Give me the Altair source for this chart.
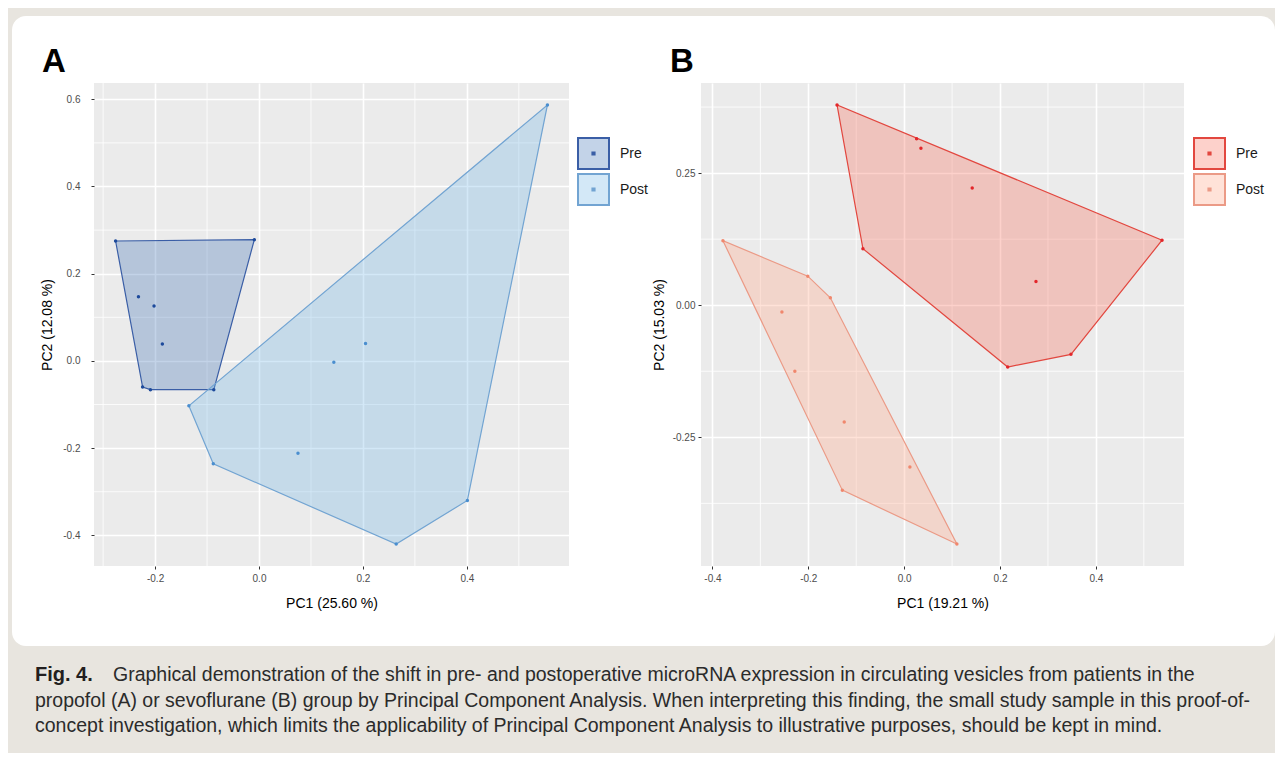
import altair as alt
import pandas as pd

# ---------------- data ----------------
A_pre_x = [-0.276, -0.009, -0.232, -0.202, -0.186, -0.224, -0.209, -0.087]
A_pre_y = [0.275, 0.278, 0.147, 0.126, 0.039, -0.060, -0.066, -0.066]
A_post_x = [-0.135, -0.088, 0.075, 0.144, 0.205, 0.264, 0.401, 0.555]
A_post_y = [-0.103, -0.236, -0.212, -0.003, 0.040, -0.420, -0.320, 0.587]

B_pre_x = [-0.140, 0.026, 0.035, 0.142, -0.086, 0.275, 0.538, 0.348, 0.216]
B_pre_y = [0.379, 0.315, 0.297, 0.222, 0.107, 0.045, 0.123, -0.093, -0.117]
B_post_x = [-0.378, -0.201, -0.154, -0.255, -0.228, -0.125, 0.012, -0.129, 0.110]
B_post_y = [0.122, 0.055, 0.014, -0.013, -0.125, -0.221, -0.306, -0.350, -0.452]

groups = ["Pre", "Post"]

A_xticks = [-0.2, 0.0, 0.2, 0.4]
A_yticks = [-0.4, -0.2, 0.0, 0.2, 0.4, 0.6]
A_xminor = [-0.3, -0.1, 0.1, 0.3, 0.5]
A_yminor = [-0.3, -0.1, 0.1, 0.3, 0.5]

B_xticks = [-0.4, -0.2, 0.0, 0.2, 0.4]
B_yticks = [-0.25, 0.0, 0.25]
B_xminor = [-0.3, -0.1, 0.1, 0.3, 0.5]
B_yminor = [-0.375, -0.125, 0.125, 0.375]

caption_bold = "Fig. 4."
caption_lines = [
    "Graphical demonstration of the shift in pre- and postoperative microRNA expression in circulating vesicles from patients in the",
    "propofol (A) or sevoflurane (B) group by Principal Component Analysis. When interpreting this finding, the small study sample in this proof-of-",
    "concept investigation, which limits the applicability of Principal Component Analysis to illustrative purposes, should be kept in mind.",
]

# ---------------- helpers ----------------
def convex_hull(xs, ys):
    pts = sorted(set(zip(xs, ys)))

    def cross(o, a, b):
        return (a[0] - o[0]) * (b[1] - o[1]) - (a[1] - o[1]) * (b[0] - o[0])

    lower = []
    for p in pts:
        while len(lower) >= 2 and cross(lower[-2], lower[-1], p) <= 0:
            lower.pop()
        lower.append(p)
    upper = []
    for p in reversed(pts):
        while len(upper) >= 2 and cross(upper[-2], upper[-1], p) <= 0:
            upper.pop()
        upper.append(p)
    return lower[:-1] + upper[:-1]


def expand(vals, mult=0.05):
    lo, hi = min(vals), max(vals)
    d = (hi - lo) * mult
    return [lo - d, hi + d]


FONT = "Liberation Sans"
KEY_PATH = "M-1,-1H1V1H-1Z M-0.07,-0.07H0.07V0.07H-0.07Z"


def panel(pre_x, pre_y, post_x, post_y, xticks, yticks, xminor, yminor,
          yfmt, xtitle, ytitle, title, title_dx, pt_colors, fill_colors,
          stroke_colors, width, height, ylab_pad, ytitle_pad, leg_dx):
    pts = pd.DataFrame({
        "x": pre_x + post_x,
        "y": pre_y + post_y,
        "group": ["Pre"] * len(pre_x) + ["Post"] * len(post_x),
    })
    rows = []
    for g, xs, ys in (("Pre", pre_x, pre_y), ("Post", post_x, post_y)):
        for i, (hx, hy) in enumerate(convex_hull(xs, ys)):
            rows.append({"x": hx, "y": hy, "group": g, "idx": i})
    hull = pd.DataFrame(rows)

    xscale = alt.Scale(domain=expand(pre_x + post_x), nice=False, zero=False)
    yscale = alt.Scale(domain=expand(pre_y + post_y), nice=False, zero=False)

    xaxis = alt.Axis(values=xticks, title=xtitle, grid=True, gridColor="white",
                     gridWidth=1.6, domain=False, tickColor="#333333", tickSize=3,
                     labelColor="#4d4d4d", labelFontSize=10, labelPadding=4,
                     labelExpr="(datum.value < 0 ? '-' : '') + format(abs(datum.value), '.1f')",
                     titleFontSize=14, titleFontWeight="normal", titleColor="black",
                     titlePadding=13, labelFont=FONT, titleFont=FONT)
    yaxis = alt.Axis(values=yticks, title=ytitle, grid=True, gridColor="white",
                     gridWidth=1.6, domain=False, tickColor="#333333", tickSize=3,
                     labelColor="#4d4d4d", labelFontSize=10, labelPadding=ylab_pad,
                     labelExpr="(datum.value < 0 ? '-' : '') + format(abs(datum.value), '" + yfmt + "')",
                     titleFontSize=14, titleFontWeight="normal", titleColor="black",
                     titlePadding=ytitle_pad, labelFont=FONT, titleFont=FONT)

    X = lambda f: alt.X(f, scale=xscale, axis=xaxis)
    Y = lambda f: alt.Y(f, scale=yscale, axis=yaxis)

    vminor = alt.Chart(pd.DataFrame({"v": xminor})).mark_rule(
        color="white", strokeWidth=0.8).encode(x=X("v:Q"))
    hminor = alt.Chart(pd.DataFrame({"v": yminor})).mark_rule(
        color="white", strokeWidth=0.8).encode(y=Y("v:Q"))

    leg = alt.Legend(title=None, orient="none", legendX=width + leg_dx, legendY=54,
                     symbolType=KEY_PATH, symbolSize=961, symbolStrokeWidth=2,
                     rowPadding=-8, labelFontSize=14, labelOffset=10,
                     labelColor="#1a1a1a", labelFont=FONT, padding=0)

    poly = alt.Chart(hull).mark_line(
        interpolate="linear-closed", strokeWidth=1.2
    ).encode(
        x=X("x:Q"), y=Y("y:Q"),
        fill=alt.Fill("group:N", scale=alt.Scale(domain=groups, range=fill_colors), legend=leg),
        stroke=alt.Stroke("group:N", scale=alt.Scale(domain=groups, range=stroke_colors), legend=leg),
        order=alt.Order("idx:Q"),
    )

    dots = alt.Chart(pts).mark_circle(size=12, opacity=1).encode(
        x=X("x:Q"), y=Y("y:Q"),
        color=alt.Color("group:N", scale=alt.Scale(domain=groups, range=pt_colors), legend=None),
    )

    return alt.layer(vminor, hminor, poly, dots).properties(
        width=width, height=height,
        title=alt.TitleParams(title, anchor="start", frame="group", fontSize=33,
                              fontWeight="bold", font=FONT, color="black",
                              dx=title_dx, offset=4),
        view=alt.ViewBackground(fill="#ebebeb", strokeWidth=0),
    )


A = panel(A_pre_x, A_pre_y, A_post_x, A_post_y, A_xticks, A_yticks, A_xminor, A_yminor,
          ".1f", "PC1 (25.60 %)", "PC2 (12.08 %)", "A", -52,
          ["#1d4a9b", "#4a8ecf"],
          ["rgba(55,108,180,0.3)", "rgba(108,178,230,0.3)"],
          ["#3a5ea6", "#72a4d2"],
          475, 483, 11, 8, 8)
B = panel(B_pre_x, B_pre_y, B_post_x, B_post_y, B_xticks, B_yticks, B_xminor, B_yminor,
          ".2f", "PC1 (19.21 %)", "PC2 (15.03 %)", "B", -31,
          ["#e3262a", "#f0876d"],
          ["rgba(248,102,82,0.3)", "rgba(255,172,143,0.35)"],
          ["#e2473f", "#eb9a86"],
          483, 483, 3, 6, 9)

# white rounded box behind both panels
frame = alt.Chart(pd.DataFrame({"k": [0]})).mark_rect(
    color="white", cornerRadius=14
).encode(x=alt.value(0), x2=alt.value(1263), y=alt.value(-67), y2=alt.value(563)).properties(
    width=1, height=483)

panels = alt.hconcat(A, B, spacing=132, bounds="flush").resolve_scale(
    color="independent", fill="independent", stroke="independent"
).resolve_legend(color="independent", fill="independent", stroke="independent")

top = alt.hconcat(frame, panels, spacing=81, bounds="flush")

CAP_FONT = "Liberation Sans"
CAP_SIZE = 19.5
cap_df = pd.DataFrame({"row": [0, 1, 2], "line": caption_lines})
ycap = alt.Y("row:O", axis=None, scale=alt.Scale(type="point", padding=0))
cap_bold = alt.Chart(pd.DataFrame({"row": [0], "line": [caption_bold]})).mark_text(
    align="left", baseline="alphabetic", fontSize=20, fontWeight="bold",
    font=CAP_FONT, color="#231f20"
).encode(y=ycap, x=alt.value(23), text="line:N")
cap_first = alt.Chart(cap_df).transform_filter("datum.row == 0").mark_text(
    align="left", baseline="alphabetic", fontSize=CAP_SIZE,
    font=CAP_FONT, color="#2b2b2b"
).encode(y=ycap, x=alt.value(101), text="line:N")
cap_rest = alt.Chart(cap_df).transform_filter("datum.row > 0").mark_text(
    align="left", baseline="alphabetic", fontSize=CAP_SIZE,
    font=CAP_FONT, color="#2b2b2b"
).encode(y=ycap, x=alt.value(23), text="line:N")
caption = alt.layer(cap_bold, cap_first, cap_rest).properties(width=1240, height=51)

chart = alt.vconcat(top, caption, spacing=19).properties(
    padding={"left": 4, "top": 8, "right": 0, "bottom": 17}
).configure(background="#e8e5df", font=FONT).configure_view(strokeWidth=0)

chart.save("out.html", embed_options={"renderer": "svg", "actions": False})
